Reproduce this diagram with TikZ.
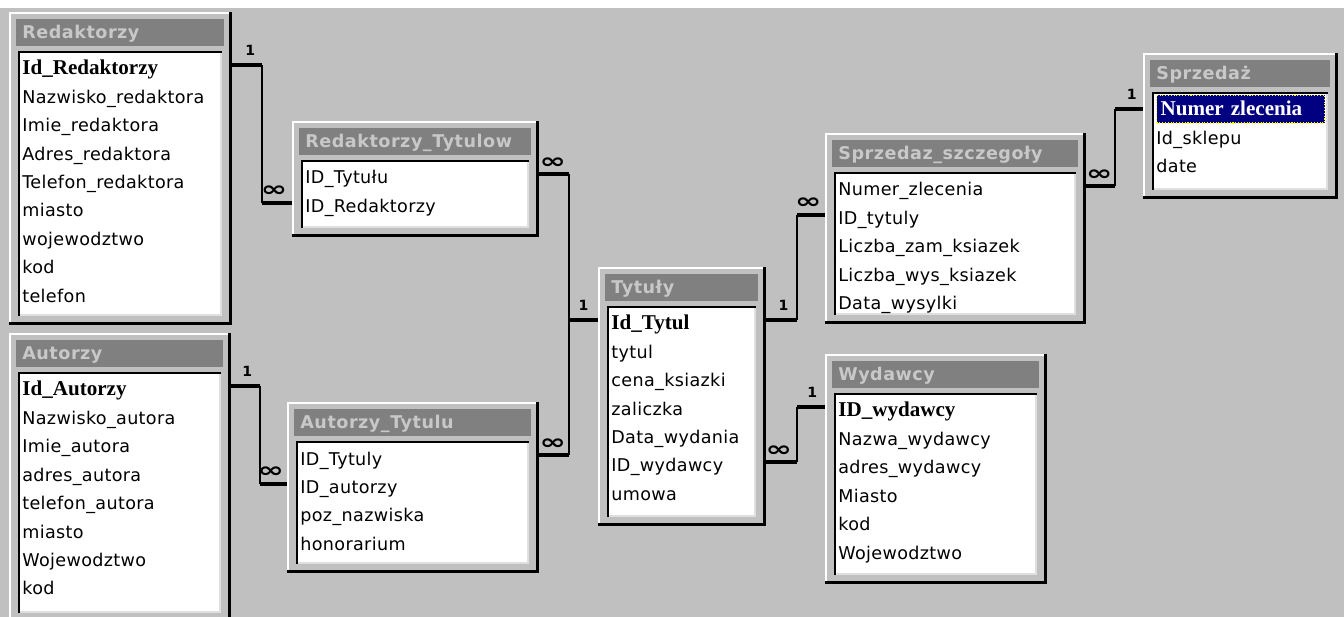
\documentclass[tikz,border=0pt]{standalone}
\usepackage{graphicx}
\usepackage{fontspec}
\setmainfont[LetterSpace=2]{DejaVu Sans}
\newfontfamily\erdtitlefont[LetterSpace=3]{DejaVu Sans}
\newfontfamily\erdkeyfont{Liberation Serif}
\usetikzlibrary{fit}
\definecolor{ErdBack}{RGB}{192,192,192}
\definecolor{ErdBar}{RGB}{128,128,128}
\definecolor{ErdBarText}{RGB}{200,200,200}
\definecolor{ErdLight}{RGB}{223,223,223}
\definecolor{ErdNavy}{RGB}{0,0,128}
\definecolor{ErdYellow}{RGB}{255,255,0}
\tikzset{
  erd/face/.style={fill=ErdBack},
  erd/bar/.style={fill=ErdBar},
  erd/list/.style={fill=white},
  erd/hilite/.style={draw=white, line width=1.2pt},
  erd/shadow/.style={draw=black, line width=1.7pt},
  erd/inset/.style={draw=black, line width=1.1pt},
  erd/insetlight/.style={draw=ErdLight, line width=1.1pt},
  erd/title/.style={anchor=base west, inner sep=0pt, text=ErdBarText,
    font=\fontsize{10}{12}\selectfont\erdtitlefont\bfseries},
  erd/field/.style={anchor=base west, inner sep=0pt, text height=11pt, text depth=0pt,
    font=\fontsize{10}{12}\selectfont},
  erd/key/.style={font=\fontsize{12}{14}\selectfont\erdkeyfont\bfseries},
  erd/selected/.style={erd/key, fill=ErdNavy, text=white, draw=ErdYellow, densely dotted,
    line width=0.6pt, inner xsep=2.3pt, inner ysep=0pt, text height=11.9pt, text depth=4pt,
    text width=91pt},
  erd/end/.style={draw=black, line width=2.1pt},
  erd/mid/.style={draw=black, line width=1.1pt},
  erd/one/.style={above=4.5pt, inner sep=0pt, font=\fontsize{8}{9}\selectfont\bfseries},
  erd/many/.style={above=2.5pt, inner sep=0pt, font=\fontsize{12}{13}\selectfont\bfseries}
}
\newcommand\erdmany{\scalebox{1.5}[1]{∞}}
\newcommand\erdtable[8][]{%
  \fill[erd/face] (#3,#4) rectangle (#5,#6);
  \draw[erd/hilite] (#3+1,#6-2) |- (#5-2,#4+1);
  \draw[erd/shadow] (#3,#6-1.5) -| (#5-1.5,#4);
  \fill[erd/bar] (#3+7,#4+7) rectangle (#5-8,#4+34);
  \fill[erd/list] (#3+9,#4+39) rectangle (#5-10,#6-9);
  \draw[erd/insetlight] (#3+10,#6-10) -| (#5-11,#4+40);
  \draw[erd/inset] (#3+10,#6-9) |- (#5-10,#4+40);
  \node[inner sep=0pt, fit={(#3,#4) (#5,#6)}] (#2) {};
  \node[erd/title] (#2-t) at (#3+13,#4+27) {#7};
  \tikzset{erd/first/.style={#1}}
  \foreach \f [count=\k] in {#8} {
    \ifnum\k=1 \tikzset{erd/this/.style={erd/first}}\else\tikzset{erd/this/.style={}}\fi
    \node[erd/field, erd/this] (#2-\k) at (#3+13,#4+63+28.4*\k-28.4) {\f};
  }
}

\begin{document}
\begin{tikzpicture}[x=0.02cm,y=-0.02cm]
  \useasboundingbox (0,0) rectangle (1344,617);
  \clip (0,0) rectangle (1344,617);
  \fill[white] (0,0) rectangle (1344,617);
  \fill[ErdBack] (0,8) rectangle (1344,617);

  \erdtable[erd/key]{red}{9}{12}{232}{325}{Redaktorzy}
    {Id\_Redaktorzy,Nazwisko\_redaktora,Imie\_redaktora,Adres\_redaktora,Telefon\_redaktora,miasto,wojewodztwo,kod,telefon}
  \erdtable{redtyt}{292}{121}{539}{237}{Redaktorzy\_Tytulow}
    {ID\_Tytułu,ID\_Redaktorzy}
  \erdtable[erd/key]{aut}{9}{333}{231}{622}{Autorzy}
    {Id\_Autorzy,Nazwisko\_autora,Imie\_autora,adres\_autora,telefon\_autora,miasto,Wojewodztwo,kod}
  \erdtable{auttyt}{287}{402}{539}{573}{Autorzy\_Tytulu}
    {ID\_Tytuly,ID\_autorzy,poz\_nazwiska,honorarium}
  \erdtable[erd/key]{tyt}{598}{267}{766}{526}{Tytuły}
    {Id\_Tytul,tytul,cena\_ksiazki,zaliczka,Data\_wydania,ID\_wydawcy,umowa}
  \erdtable{sprsz}{825}{133}{1086}{324}{Sprzedaz\_szczegoły}
    {Numer\_zlecenia,ID\_tytuly,Liczba\_zam\_ksiazek,Liczba\_wys\_ksiazek,Data\_wysylki}
  \erdtable[erd/selected]{spr}{1143}{53}{1338}{199}{Sprzedaż}
    {Numer zlecenia,Id\_sklepu,date}
  \erdtable[erd/key]{wyd}{825}{354}{1047}{584}{Wydawcy}
    {ID\_wydawcy,Nazwa\_wydawcy,adres\_wydawcy,Miasto,kod,Wojewodztwo}

  \draw[erd/end] (red.east |- red-1) -- node[erd/one,pos=0.6] {1} ++(30,0) coordinate (j1);
  \draw[erd/end] (redtyt.west |- redtyt-2) -- node[erd/many,pos=0.6] {\erdmany} (j1 |- redtyt-2) coordinate (j2);
  \draw[erd/mid] (j1) -- (j2);

  \draw[erd/end] (redtyt.east |- redtyt-1) -- node[erd/many,pos=0.45] {\erdmany} ++(30,0) coordinate (j3);
  \draw[erd/end] (tyt.west |- tyt-1) -- node[erd/one,pos=0.5] {1} (j3 |- tyt-1) coordinate (j4);
  \draw[erd/end] (auttyt.east |- auttyt-1) -- node[erd/many,pos=0.45] {\erdmany} (j3 |- auttyt-1) coordinate (j5);
  \draw[erd/mid] (j3) -- (j5);

  \draw[erd/end] (aut.east |- aut-1) -- node[erd/one,pos=0.55] {1} ++(29,0) coordinate (j6);
  \draw[erd/end] (auttyt.west |- auttyt-2) -- node[erd/many,pos=0.6] {\erdmany} (j6 |- auttyt-2) coordinate (j7);
  \draw[erd/mid] (j6) -- (j7);

  \draw[erd/end] (tyt.east |- tyt-1) -- node[erd/one,pos=0.55] {1} ++(31,0) coordinate (j8);
  \draw[erd/end] (sprsz.west |- sprsz-2) -- node[erd/many,pos=0.6] {\erdmany} (j8 |- sprsz-2) coordinate (j9);
  \draw[erd/mid] (j8) -- (j9);

  \draw[erd/end] (tyt.east |- tyt-6) -- node[erd/many,pos=0.4] {\erdmany} ++(31,0) coordinate (j10);
  \draw[erd/end] (wyd.west |- wyd-1) -- node[erd/one,pos=0.45] {1} (j10 |- wyd-1) coordinate (j11);
  \draw[erd/mid] (j10) -- (j11);

  \draw[erd/end] (sprsz.east |- sprsz-1) -- node[erd/many,pos=0.45] {\erdmany} ++(29,0) coordinate (j12);
  \draw[erd/end] (spr.west |- spr-1) -- node[erd/one,pos=0.4] {1} (j12 |- spr-1) coordinate (j13);
  \draw[erd/mid] (j12) -- (j13);
\end{tikzpicture}
\end{document}
